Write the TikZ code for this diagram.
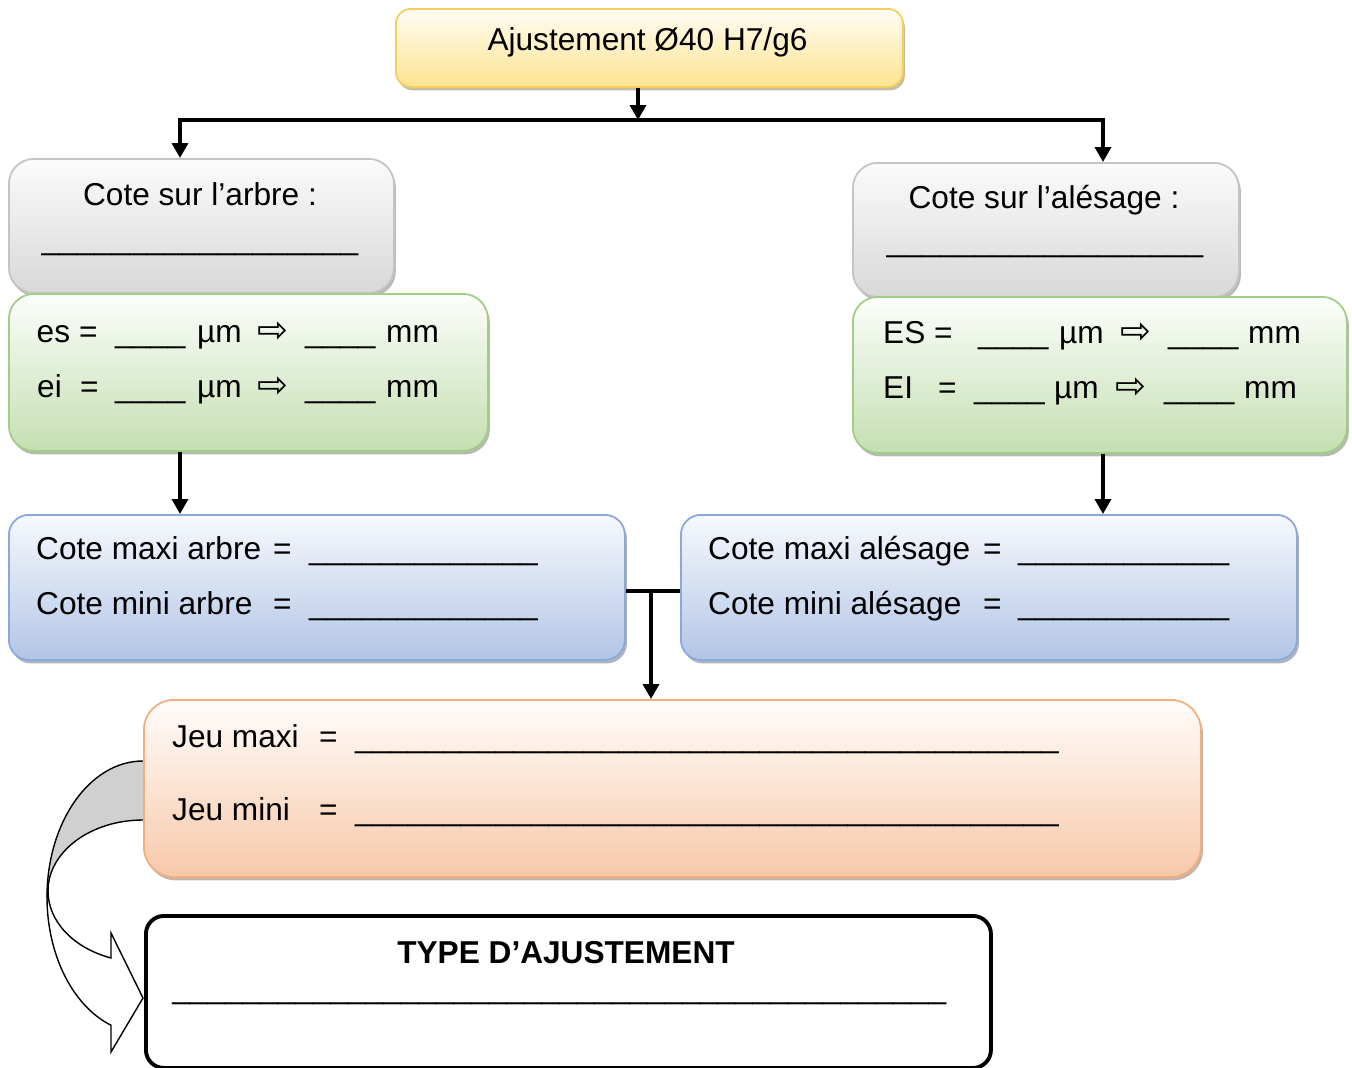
\documentclass[tikz,border=0pt]{standalone}
\usepackage{fontspec}
\setmainfont{Liberation Sans}
\newfontfamily\arrowfont{DejaVu Sans}
\usetikzlibrary{arrows.meta, positioning, shadows}
\definecolor{titleline}{HTML}{F4CF5E}
\definecolor{titletop}{HTML}{FFFDF5}
\definecolor{titlebot}{HTML}{FFE38F}
\definecolor{greyline}{HTML}{C4C4C4}
\definecolor{greytop}{HTML}{FBFBFB}
\definecolor{greybot}{HTML}{D8D8D8}
\definecolor{greenline}{HTML}{A2CD86}
\definecolor{greentop}{HTML}{FCFEFB}
\definecolor{greenbot}{HTML}{C4DFB1}
\definecolor{blueline}{HTML}{8AA8DA}
\definecolor{bluetop}{HTML}{F7F9FD}
\definecolor{bluebot}{HTML}{B2C5E6}
\definecolor{orangeline}{HTML}{F3AE7E}
\definecolor{orangetop}{HTML}{FFFDFB}
\definecolor{orangebot}{HTML}{F7C8A9}
\definecolor{backgrey}{HTML}{D0D0D0}

\newcommand{\blanks}[1]{\foreach \k in {1,...,#1}{\_}}
\newcommand{\tabat}[2]{\makebox[0pt][l]{\hspace{#1}#2}}
\newcommand{\wto}{{\arrowfont\fontsize{21}{21}\selectfont ⇨}}

\begin{document}
\begin{tikzpicture}[
  panel/.style={rounded corners=0.5cm, line width=1pt, inner sep=0pt, anchor=north west},
  boxshadow/.style={drop shadow={shadow xshift=0.04cm, shadow yshift=-0.07cm, fill=#1, opacity=0.55}},
  titlebox/.style={panel, rounded corners=0.3cm, draw=titleline, top color=titletop, bottom color=titlebot, boxshadow=titlebot!60!black},
  sidebox/.style={panel, draw=greyline, top color=greytop, bottom color=greybot, boxshadow=greybot!60!black},
  tolbox/.style={panel, draw=greenline, top color=greentop, bottom color=greenbot, boxshadow=greenbot!60!black},
  limbox/.style={panel, rounded corners=0.4cm, draw=blueline, top color=bluetop, bottom color=bluebot, boxshadow=bluebot!60!black},
  jeubox/.style={panel, rounded corners=0.6cm, draw=orangeline, top color=orangetop, bottom color=orangebot, boxshadow=orangebot!60!black},
  typebox/.style={panel, rounded corners=0.36cm, draw=black, line width=2.2pt, fill=white},
  txt/.style={anchor=base west, inner sep=0pt, font=\fontsize{18}{22}\selectfont},
  arr/.style={-{Triangle[length=0.3cm, width=0.32cm]}, line width=2pt},
  link/.style={line width=2pt},
]
  \useasboundingbox (0,0) rectangle (27.04,-21.36);

  % curved arrow from the clearances to the fit type
  \fill[backgrey] (2.86,-15.22) arc[start angle=90, end angle=180, x radius=1.92cm, y radius=2.72cm]
    -- (0.96,-17.82) arc[start angle=180, end angle=90, x radius=1.90cm, y radius=1.42cm] -- cycle;
  \draw[line width=0.8pt] (2.86,-15.22) arc[start angle=90, end angle=180, x radius=1.92cm, y radius=2.72cm];
  \draw[line width=0.8pt] (2.86,-16.40) arc[start angle=90, end angle=180, x radius=1.90cm, y radius=1.42cm];
  \filldraw[fill=white, line width=0.8pt] (0.94,-17.94)
    arc[start angle=180, end angle=250.5, x radius=1.92cm, y radius=2.72cm]
    -- (2.22,-21.04) -- (2.86,-19.96) -- (2.22,-18.66) -- (2.22,-19.16)
    arc[start angle=250.3, end angle=180, x radius=1.90cm, y radius=1.42cm] -- cycle;

  % boxes
  \node[titlebox, minimum width=10.14cm, minimum height=1.56cm] (title) at (7.90,-0.16) {};
  \node[sidebox, minimum width=7.70cm, minimum height=2.68cm] (arbre) at (0.16,-3.16) {};
  \node[sidebox, minimum width=7.72cm, minimum height=2.68cm] (alesage) at (17.04,-3.24) {};
  \node[tolbox, minimum width=9.58cm, minimum height=3.14cm] (esei) at (0.16,-5.86) {};
  \node[tolbox, minimum width=9.88cm, minimum height=3.12cm] (ESEI) at (17.04,-5.92) {};
  \node[limbox, minimum width=12.32cm, minimum height=2.90cm] (limarbre) at (0.16,-10.28) {};
  \node[limbox, minimum width=12.32cm, minimum height=2.90cm] (limalesage) at (13.60,-10.28) {};
  \node[jeubox, minimum width=21.14cm, minimum height=3.54cm] (jeu) at (2.86,-13.98) {};
  \node[typebox, minimum width=16.90cm, minimum height=3.04cm] (type) at (2.88,-18.28) {};

  % texts
  \node[txt, anchor=base] (titletxt) at (12.95,-1.00) {Ajustement Ø40 H7/g6};
  \node[txt, anchor=base] (arbretxt) at (4.00,-4.10) {Cote sur l’arbre :};
  \node[txt, anchor=base] (arbreline) at (4.00,-4.98) {\blanks{18}};
  \node[txt, anchor=base] (alesagetxt) at (20.88,-4.16) {Cote sur l’alésage :};
  \node[txt, anchor=base] (alesageline) at (20.90,-5.02) {\blanks{18}};

  \node[txt] (es) at (0.71,-6.84) {\tabat{0cm}{es}\tabat{0.85cm}{=}\tabat{1.57cm}{\blanks{4}}\tabat{3.21cm}{µm}\tabat{4.42cm}{\wto}\tabat{5.37cm}{\blanks{4}}\tabat{6.99cm}{mm}};
  \node[txt] (ei) at (0.72,-7.94) {\tabat{0cm}{ei}\tabat{0.86cm}{=}\tabat{1.56cm}{\blanks{4}}\tabat{3.20cm}{µm}\tabat{4.41cm}{\wto}\tabat{5.36cm}{\blanks{4}}\tabat{6.98cm}{mm}};
  \node[txt] (ES) at (17.64,-6.86) {\tabat{0cm}{ES}\tabat{1.02cm}{=}\tabat{1.90cm}{\blanks{4}}\tabat{3.52cm}{µm}\tabat{4.75cm}{\wto}\tabat{5.70cm}{\blanks{4}}\tabat{7.30cm}{mm}};
  \node[txt] (EI) at (17.64,-7.96) {\tabat{0cm}{EI}\tabat{1.10cm}{=}\tabat{1.82cm}{\blanks{4}}\tabat{3.42cm}{µm}\tabat{4.65cm}{\wto}\tabat{5.62cm}{\blanks{4}}\tabat{7.22cm}{mm}};

  \node[txt] (maxiarbre) at (0.70,-11.18) {\tabat{0cm}{Cote maxi arbre}\tabat{4.74cm}{=}\tabat{5.46cm}{\blanks{13}}};
  \node[txt] (miniarbre) at (0.70,-12.28) {\tabat{0cm}{Cote mini arbre}\tabat{4.74cm}{=}\tabat{5.46cm}{\blanks{13}}};
  \node[txt] (maxialesage) at (14.14,-11.18) {\tabat{0cm}{Cote maxi alésage}\tabat{5.50cm}{=}\tabat{6.20cm}{\blanks{12}}};
  \node[txt] (minialesage) at (14.14,-12.28) {\tabat{0cm}{Cote mini alésage}\tabat{5.50cm}{=}\tabat{6.20cm}{\blanks{12}}};

  \node[txt] (jeumaxi) at (3.42,-14.94) {\tabat{0cm}{Jeu maxi}\tabat{2.94cm}{=}\tabat{3.66cm}{\blanks{40}}};
  \node[txt] (jeumini) at (3.42,-16.40) {\tabat{0cm}{Jeu mini}\tabat{2.94cm}{=}\tabat{3.66cm}{\blanks{40}}};

  \node[txt, anchor=base, font=\fontsize{18}{22}\selectfont\bfseries] (typetxt) at (11.32,-19.26) {TYPE D’AJUSTEMENT};
  \node[txt] (typeline) at (3.44,-19.96) {\blanks{44}};

  % connectors
  \coordinate (split) at (12.76,-2.40);
  \coordinate (colL) at (3.60,-2.40);
  \coordinate (colR) at (22.06,-2.40);
  \coordinate (join) at (13.02,-11.82);
  \draw[arr] (title.south -| split) -- (split);
  \draw[arr] (split) -| (arbre.north -| colL);
  \draw[arr] (split) -| (alesage.north -| colR);
  \draw[arr] (esei.south -| colL) -- (limarbre.north -| colL);
  \draw[arr] (ESEI.south -| colR) -- (limalesage.north -| colR);
  \draw[link] (limarbre.east |- join) -- (limalesage.west |- join);
  \draw[arr] (join) -- (jeu.north -| join);
\end{tikzpicture}
\end{document}
